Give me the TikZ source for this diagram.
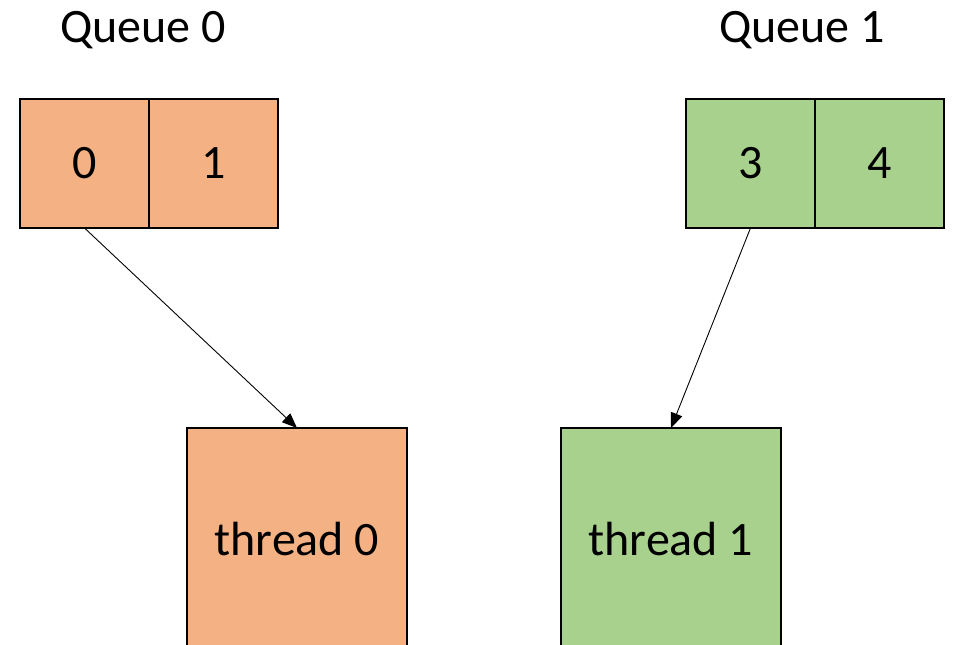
\documentclass[tikz,border=0pt]{standalone}
\usepackage{fontspec}
\setmainfont{Carlito}
\usetikzlibrary{positioning,arrows.meta}
\definecolor{qorange}{HTML}{F4B183}
\definecolor{qgreen}{HTML}{A9D18E}
\tikzset{
  cell/.style={draw, line width=2pt, minimum size=129pt, inner sep=0pt, outer sep=0pt},
  worker/.style={draw, line width=2pt, minimum width=220pt, minimum height=222pt, inner sep=0pt, outer sep=0pt},
  label/.style={anchor=base},
}
\begin{document}
\begin{tikzpicture}[x=1pt, y=1pt, >={Triangle[length=15pt,width=12pt]},
    font=\fontsize{48}{56}\selectfont]
    \useasboundingbox (0,0) rectangle (953,645);
    \begin{scope}
      \clip (0,0) rectangle (953,645);
      % queue 0
      \node[label] (q0) at (143,602) {Queue 0};
      \node[cell, fill=qorange] (c0) at (84.5,481.5) {0};
      \node[cell, fill=qorange, right=0pt of c0] (c1) {1};
      % queue 1
      \node[label] (q1) at (802,602) {Queue 1};
      \node[cell, fill=qgreen] (c3) at (750.5,481.5) {3};
      \node[cell, fill=qgreen, right=0pt of c3] (c4) {4};
      % threads
      \node[worker, fill=qorange] (t0) at (297,106) {thread 0};
      \node[worker, fill=qgreen] (t1) at (671,106) {thread 1};
      \draw[->, line width=0.9pt] (c0.south) -- (t0.north);
      \draw[->, line width=0.9pt] (c3.south) -- (t1.north);
    \end{scope}
  \end{tikzpicture}
\end{document}
